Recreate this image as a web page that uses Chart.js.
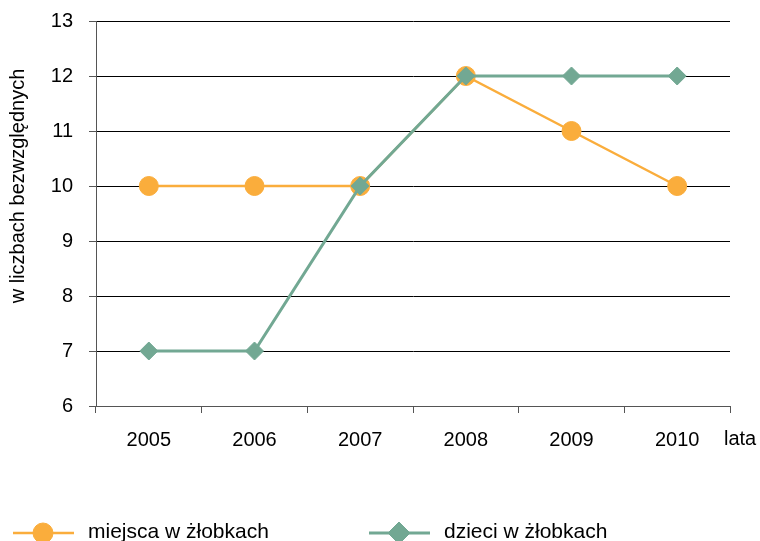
<!DOCTYPE html>
<html>
<head>
<meta charset="utf-8">
<script src="https://cdn.jsdelivr.net/npm/chart.js@4"></script>
<style>
  html, body { margin: 0; padding: 0; background: #fff; }
  #wrap { width: 760px; height: 541px; }
</style>
</head>
<body>
<div id="wrap"><canvas id="wykres" width="760" height="541"></canvas></div>
<script>
// dane z wykresu
const lata = ['2005', '2006', '2007', '2008', '2009', '2010'];
const miejsca = [10, 10, 10, 12, 11, 10];
const dzieci = [7, 7, 10, 12, 12, 12];
const osY = { min: 6, max: 13, krok: 1 };

const pomaranczowy = '#FAAD3C';
const zielony = '#72A893';
const czcionka = '"Liberation Sans", Arial, sans-serif';

// podpisy: tytul osi Y, "lata" i legenda na dole
const dodatki = {
  id: 'dodatki',
  afterDraw(chart) {
    const ctx = chart.ctx;
    const area = chart.chartArea;
    ctx.save();
    ctx.fillStyle = '#000';

    // tytul osi Y
    ctx.font = '20px ' + czcionka;
    ctx.textAlign = 'center';
    ctx.textBaseline = 'middle';
    ctx.translate(18, 186);
    ctx.rotate(-Math.PI / 2);
    ctx.fillText('w liczbach bezwzględnych', 0, 0);
    ctx.restore();

    // opis osi X
    ctx.save();
    ctx.font = '20px ' + czcionka;
    ctx.textAlign = 'left';
    ctx.textBaseline = 'middle';
    ctx.fillStyle = '#000';
    ctx.fillText('lata', area.right - 6, 439);
    ctx.restore();

    // legenda
    const pozycje = [13, 369];
    const rozmiary = [10, 11];
    chart.data.datasets.forEach((ds, i) => {
      const x0 = pozycje[i];
      const y = 533;
      ctx.save();
      ctx.strokeStyle = ds.borderColor;
      ctx.lineWidth = ds.borderWidth;
      ctx.beginPath();
      ctx.moveTo(x0, y);
      ctx.lineTo(x0 + 61, y);
      ctx.stroke();
      ctx.fillStyle = ds.pointBackgroundColor;
      ctx.strokeStyle = ds.pointBorderColor;
      ctx.lineWidth = 1;
      Chart.helpers.drawPoint(ctx, {
        pointStyle: ds.pointStyle,
        radius: rozmiary[i],
        borderWidth: 1
      }, x0 + 30, y);
      ctx.fillStyle = '#000';
      ctx.font = '21px ' + czcionka;
      ctx.textAlign = 'left';
      ctx.textBaseline = 'alphabetic';
      ctx.fillText(ds.label, x0 + 75, 538);
      ctx.restore();
    });
  }
};

const config = {
  type: 'line',
  data: {
    labels: lata,
    datasets: [
      {
        label: 'miejsca w żłobkach',
        data: miejsca,
        borderColor: pomaranczowy,
        backgroundColor: pomaranczowy,
        borderWidth: 2.5,
        pointStyle: 'circle',
        pointRadius: 9.5,
        pointBorderWidth: 1,
        pointBackgroundColor: pomaranczowy,
        pointBorderColor: pomaranczowy,
        tension: 0,
        order: 2
      },
      {
        label: 'dzieci w żłobkach',
        data: dzieci,
        borderColor: zielony,
        backgroundColor: zielony,
        borderWidth: 3,
        pointStyle: 'rectRot',
        pointRadius: 9,
        pointBorderWidth: 1,
        pointBackgroundColor: zielony,
        pointBorderColor: zielony,
        tension: 0,
        order: 1
      }
    ]
  },
  options: {
    responsive: false,
    animation: false,
    layout: { padding: { left: 0, right: 30, top: 21, bottom: 0 } },
    plugins: {
      legend: { display: false },
      tooltip: { enabled: false }
    },
    scales: {
      x: {
        offset: true,
        afterFit: (scale) => {
          scale.height = 135;
          scale.paddingLeft = 0;
          scale.paddingRight = 0;
        },
        grid: {
          offset: true,
          drawOnChartArea: false,
          drawTicks: true,
          tickLength: 7,
          color: '#555'
        },
        border: { color: '#555', width: 1 },
        ticks: {
          color: '#000',
          padding: 15,
          font: { family: czcionka, size: 20 }
        }
      },
      y: {
        min: osY.min,
        max: osY.max,
        afterFit: (scale) => {
          scale.width = 96;
          scale.paddingTop = 0;
          scale.paddingBottom = 0;
        },
        grid: {
          color: '#000',
          tickColor: '#555',
          tickLength: 7,
          lineWidth: 1
        },
        border: { color: '#555', width: 1 },
        ticks: {
          stepSize: osY.krok,
          color: '#000',
          padding: 16,
          font: { family: czcionka, size: 20 }
        }
      }
    }
  },
  plugins: [dodatki]
};

const wykres = new Chart(document.getElementById('wykres'), config);
</script>
</body>
</html>
